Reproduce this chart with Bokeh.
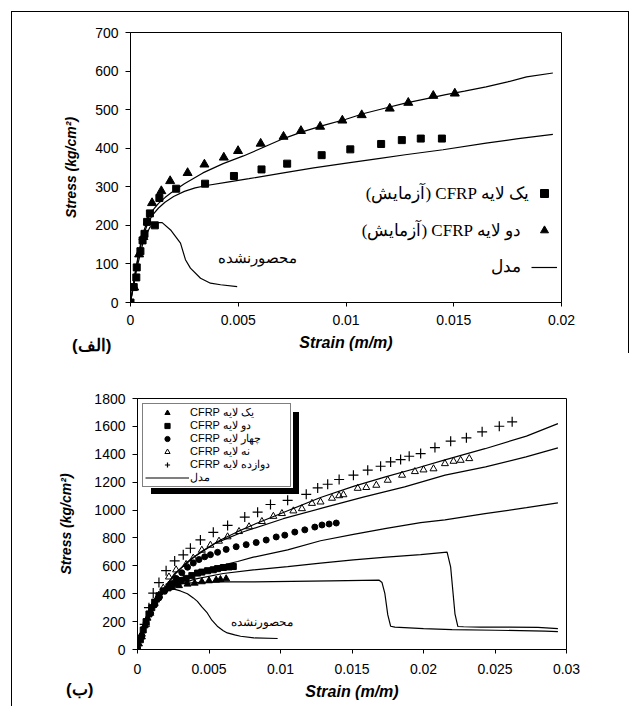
from bokeh.plotting import figure
from bokeh.layouts import column, row
from bokeh.models import Legend, LegendItem, Label, FixedTicker, Range1d, Div
from bokeh.core.properties import value
from bokeh.embed import file_html
from bokeh.resources import INLINE

# ================= Chart (a) =================
A_SQ_STRAIN = [0, 0.00015, 0.00027, 0.00029, 0.00046, 0.00056, 0.00065, 0.00077, 0.0009, 0.00113,
               0.00134, 0.00212, 0.00346, 0.0048, 0.00608, 0.00727, 0.00887, 0.0102, 0.01163,
               0.01259, 0.01347, 0.01445]
A_SQ_STRESS = [0, 40, 65, 91, 133, 161, 178, 209, 231, 200, 271, 295, 308, 328, 345, 360, 382,
               397, 411, 421, 425, 425]

A_TR_STRAIN = [0, 0.00017, 0.0004, 0.0006, 0.0008, 0.001, 0.00143, 0.00184, 0.00265, 0.00343,
               0.00433, 0.00499, 0.00604, 0.0071, 0.00791, 0.0088, 0.00983, 0.01073, 0.01203,
               0.01289, 0.01405, 0.01505]
A_TR_STRESS = [0, 39, 125, 170, 210, 258, 289, 315, 336, 358, 376, 393, 412, 430, 445, 456, 472,
               486, 503, 518, 536, 542]

A_M1_STRAIN = [0, 0.0002, 0.0004, 0.0006, 0.0008, 0.001, 0.0013, 0.0016, 0.002, 0.0025, 0.003,
               0.0036, 0.0045, 0.0055, 0.0071, 0.0085, 0.0101, 0.0115, 0.01275, 0.0145, 0.0165,
               0.018, 0.0196]
A_M1_STRESS = [0, 70, 130, 175, 205, 225, 245, 260, 275, 288, 297, 304, 312, 321, 336, 349, 362,
               373, 383, 396, 413, 425, 436]

A_M2_STRAIN = [0, 0.0002, 0.0004, 0.0006, 0.0008, 0.001, 0.0013, 0.0016, 0.00187, 0.0025,
               0.00336, 0.0043, 0.00524, 0.0062, 0.0071, 0.008, 0.009, 0.01, 0.01083, 0.01175,
               0.01275, 0.0137, 0.01463, 0.0155, 0.0165, 0.0175, 0.01838, 0.0196]
A_M2_STRESS = [0, 72, 135, 182, 215, 237, 257, 272, 284, 308, 336, 360, 380, 403, 425, 443, 460,
               475, 490, 503, 517, 528, 539, 548, 559, 572, 585, 595]

A_UNC_STRAIN = [0, 0.0003, 0.0006, 0.0009, 0.00124, 0.00147, 0.00186, 0.00232, 0.00255, 0.00278,
                0.00325, 0.00371, 0.00418, 0.00495]
A_UNC_STRESS = [0, 90, 160, 195, 207, 207, 188, 154, 111, 89, 63, 50, 46, 41]

A_X_TICKS = [0, 0.005, 0.01, 0.015, 0.02]
A_X_LABELS = ["0", "0.005", "0.01", "0.015", "0.02"]
A_Y_TICKS = [0, 100, 200, 300, 400, 500, 600, 700]
A_LEGEND = ["(آزمایش) CFRP یک لایه", "(آزمایش) CFRP دو لایه", "مدل"]
A_NOTE = "محصورنشده"
A_TAG = "(الف)"

# ================= Chart (b) =================
B1_STRAIN = [0, 0.0001, 0.0003, 0.0005, 0.0007, 0.0009, 0.0011, 0.0013, 0.0015, 0.0018, 0.0021,
             0.0024, 0.0029, 0.0035, 0.004, 0.0045, 0.005, 0.0055, 0.0058, 0.0062]
B1_STRESS = [0, 40, 110, 170, 225, 275, 320, 355, 385, 415, 435, 448, 458, 469, 476, 486, 493,
             498, 502, 507]

B2_STRAIN = [0, 0.0002, 0.0004, 0.0006, 0.0008, 0.001, 0.0012, 0.0015, 0.0018, 0.0022, 0.0026,
             0.003, 0.0034, 0.0038, 0.0042, 0.0045, 0.0049, 0.0053, 0.0056, 0.006, 0.0064, 0.0067]
B2_STRESS = [0, 70, 140, 200, 255, 300, 340, 385, 420, 450, 475, 495, 510, 530, 548, 555, 565,
             572, 580, 588, 592, 595]

B4_STRAIN = [0, 0.0003, 0.0006, 0.0009, 0.0012, 0.0015, 0.0019, 0.0023, 0.0027, 0.0031, 0.0035,
             0.0039, 0.0043, 0.0047, 0.0051, 0.0056, 0.0062, 0.0069, 0.0076, 0.0083, 0.009,
             0.0097, 0.0103, 0.011, 0.0117, 0.0124, 0.0129, 0.0134, 0.0139]
B4_STRESS = [0, 100, 190, 260, 320, 370, 420, 470, 510, 550, 590, 620, 645, 665, 680, 697, 718,
             737, 752, 767, 785, 807, 820, 842, 858, 878, 893, 900, 907]

B9_STRAIN = [0, 0.0003, 0.0006, 0.0009, 0.0012, 0.0015, 0.0018, 0.0022, 0.0027, 0.0034, 0.0039,
             0.0045, 0.0051, 0.0057, 0.0063, 0.0071, 0.0078, 0.0087, 0.0095, 0.0101, 0.0109,
             0.0115, 0.0122, 0.0128, 0.0136, 0.0141, 0.0144, 0.0154, 0.016, 0.0167, 0.0175,
             0.0185, 0.0194, 0.02, 0.0207, 0.0215, 0.0221, 0.0226, 0.0232]
B9_STRESS = [0, 90, 180, 260, 330, 390, 440, 520, 571, 610, 655, 712, 748, 777, 808, 846, 880,
             918, 955, 975, 994, 1010, 1048, 1058, 1085, 1103, 1110, 1156, 1162, 1178, 1214,
             1250, 1276, 1288, 1296, 1333, 1350, 1357, 1369]

B12_STRAIN = [0, 0.0002, 0.0005, 0.0008, 0.0011, 0.0015, 0.002, 0.0026, 0.0032, 0.0037, 0.0044,
              0.0053, 0.0063, 0.0075, 0.0084, 0.0093, 0.0105, 0.0118, 0.0126, 0.0133, 0.0141,
              0.0151, 0.0161, 0.017, 0.0177, 0.0184, 0.019, 0.0198, 0.0208, 0.0219, 0.023,
              0.0241, 0.0253, 0.0262]
B12_STRESS = [0, 80, 180, 300, 405, 480, 565, 635, 679, 726, 786, 840, 890, 950, 985, 1040, 1070,
              1113, 1159, 1185, 1219, 1250, 1286, 1314, 1345, 1362, 1386, 1405, 1448, 1494, 1518,
              1561, 1601, 1633]

BM12_STRAIN = [0, 0.0003, 0.0006, 0.001, 0.0014, 0.0018, 0.0023, 0.0028, 0.0035, 0.0045, 0.0058,
               0.007, 0.0081, 0.0093, 0.0105, 0.0128, 0.0151, 0.0174, 0.0195, 0.0215, 0.0243,
               0.0272, 0.0294]
BM12_STRESS = [0, 110, 200, 290, 360, 425, 500, 560, 630, 705, 785, 845, 895, 945, 995, 1090,
               1170, 1240, 1300, 1360, 1440, 1530, 1620]

BM9_STRAIN = [0, 0.0003, 0.0006, 0.001, 0.0014, 0.0018, 0.00255, 0.00396, 0.00538, 0.00736,
              0.01019, 0.01302, 0.01585, 0.01868, 0.02151, 0.02434, 0.02717, 0.0294]
BM9_STRESS = [0, 110, 200, 290, 360, 420, 540, 663, 759, 843, 938, 1017, 1094, 1166, 1250, 1310,
              1381, 1446]

BM4_STRAIN = [0, 0.0003, 0.0006, 0.001, 0.0014, 0.0018, 0.0022, 0.003, 0.0046, 0.007, 0.0081,
              0.0105, 0.0128, 0.0151, 0.0174, 0.0198, 0.0215, 0.0243, 0.0272, 0.0294]
BM4_STRESS = [0, 110, 200, 290, 360, 405, 435, 490, 571, 631, 662, 714, 780, 825, 869, 910, 930,
              974, 1017, 1051]

BM2_STRAIN = [0, 0.0003, 0.0006, 0.001, 0.0014, 0.0018, 0.0022, 0.0025, 0.004, 0.006, 0.0081,
              0.0105, 0.0128, 0.0151, 0.0174, 0.0198, 0.02165, 0.0219, 0.0222, 0.0224, 0.0228,
              0.024, 0.026, 0.028, 0.0294]
BM2_STRESS = [0, 110, 200, 290, 360, 405, 430, 450, 505, 545, 571, 595, 619, 643, 662, 680, 699,
              590, 256, 165, 163, 160, 160, 158, 150]

BM1_STRAIN = [0, 0.0003, 0.0006, 0.001, 0.0014, 0.0018, 0.0022, 0.0025, 0.003, 0.004, 0.006,
              0.008, 0.0135, 0.0169, 0.0171, 0.0173, 0.0175, 0.0177, 0.018, 0.02, 0.022, 0.025,
              0.0285, 0.0294]
BM1_STRESS = [0, 110, 200, 290, 360, 405, 430, 455, 470, 480, 485, 485, 492, 497, 480, 400, 250,
              167, 160, 150, 142, 138, 132, 128]

BMU_STRAIN = [0, 0.0003, 0.0006, 0.001, 0.0014, 0.0018, 0.0022, 0.00256, 0.003, 0.00349, 0.0039,
              0.00419, 0.0045, 0.00488, 0.0052, 0.00558, 0.006, 0.00628, 0.0068, 0.00721,
              0.00814, 0.0098]
BMU_STRESS = [0, 110, 200, 290, 360, 405, 425, 433, 420, 400, 370, 345, 305, 262, 210, 167, 135,
              119, 105, 95, 83, 79]

B_X_TICKS = [0, 0.005, 0.01, 0.015, 0.02, 0.025, 0.03]
B_X_LABELS = ["0", "0.005", "0.01", "0.015", "0.02", "0.025", "0.03"]
B_Y_TICKS = [0, 200, 400, 600, 800, 1000, 1200, 1400, 1600, 1800]
B_LEGEND = ["CFRP یک لایه", "CFRP دو لایه", "CFRP چهار لایه", "CFRP نه لایه",
            "CFRP دوازده لایه", "مدل"]
B_NOTE = "محصورنشده"
B_TAG = "(ب)"

X_TITLE = "Strain (m/m)"
Y_TITLE = "Stress (kg/cm²)"

SANS = "Liberation Sans"
SERIF = "Liberation Serif"
W = 633
H = 353


def style(p, xticks, xlabels, yticks, tick_standoff_x, title_standoff_x, title_standoff_y):
    p.xgrid.visible = False
    p.ygrid.visible = False
    p.outline_line_color = "black"
    p.outline_line_width = 1
    p.outline_line_alpha = 1
    p.background_fill_color = None
    p.border_fill_color = None
    for ax in (p.xaxis[0], p.yaxis[0]):
        ax.axis_line_color = "black"
        ax.major_tick_line_color = "black"
        ax.minor_tick_line_color = None
        ax.major_tick_in = 0
        ax.major_label_text_font = SANS
        ax.major_label_text_font_size = "14px"
        ax.major_label_text_color = "black"
        ax.axis_label_text_font = SANS
        ax.axis_label_text_font_style = "bold italic"
        ax.axis_label_text_color = "black"
    p.xaxis[0].ticker = FixedTicker(ticks=xticks)
    p.xaxis[0].major_label_overrides = dict(zip(xticks, xlabels))
    p.yaxis[0].ticker = FixedTicker(ticks=yticks)
    p.xaxis[0].major_tick_out = 4
    p.yaxis[0].major_tick_out = 5
    p.xaxis[0].major_label_standoff = tick_standoff_x
    p.yaxis[0].major_label_standoff = 7
    p.xaxis[0].axis_label = X_TITLE
    p.yaxis[0].axis_label = Y_TITLE
    p.xaxis[0].axis_label_text_font_size = "16px"
    p.yaxis[0].axis_label_text_font_size = "14px"
    p.xaxis[0].axis_label_standoff = title_standoff_x
    p.yaxis[0].axis_label_standoff = title_standoff_y


def page_frame(sizes, positions):
    # page frame lines painted behind the transparent canvas border area
    n = len(sizes)
    return {
        "background-color": "white",
        "background-image": ", ".join(["linear-gradient(#000, #000)"] * n),
        "background-size": ", ".join(sizes),
        "background-position": ", ".join(positions),
        "background-repeat": "no-repeat",
    }


def tag_div(text, left, top):
    return Div(text=text, styles={
        "position": "absolute", "left": f"{left}px", "top": f"{top}px",
        "font-family": SANS, "font-size": "17px", "font-weight": "bold",
        "color": "black", "line-height": "20px", "z-index": "10", "white-space": "nowrap",
    })


# ---------------- top figure ----------------
p1 = figure(width=W, height=H, x_range=Range1d(0, 0.02), y_range=Range1d(0, 700),
            output_backend="svg", toolbar_location=None,
            min_border_left=130, min_border_right=72, min_border_top=32, min_border_bottom=51,
            styles=page_frame(["1px calc(100% - 11px)", "618px 1px", "1px calc(100% - 11px)"],
                              ["11px 11px", "11px 11px", "628px 11px"]))
style(p1, A_X_TICKS, A_X_LABELS, A_Y_TICKS, 8, 6, 13)

a_m1 = p1.line(A_M1_STRAIN, A_M1_STRESS, line_color="black", line_width=1.2)
p1.line(A_M2_STRAIN, A_M2_STRESS, line_color="black", line_width=1.2)
p1.line(A_UNC_STRAIN, A_UNC_STRESS, line_color="black", line_width=1.2)
a_sq = p1.scatter(A_SQ_STRAIN, A_SQ_STRESS, marker="square", size=7,
                  fill_color="black", line_color="black")
a_tr = p1.scatter(A_TR_STRAIN, A_TR_STRESS, marker="triangle", size=9,
                  fill_color="black", line_color="black")

# legend keys (glyphs only); the right-to-left texts sit to their left
leg1 = Legend(items=[LegendItem(label=value(""), renderers=[a_sq]),
                     LegendItem(label=value(""), renderers=[a_tr]),
                     LegendItem(label=value(""), renderers=[a_m1])],
              location=(401, 25), orientation="vertical", padding=0, margin=0,
              spacing=17, glyph_width=26, glyph_height=20, label_height=20,
              label_width=0, label_standoff=0,
              background_fill_alpha=0, border_line_alpha=0)
p1.add_layout(leg1)

for txt, lx, ly in zip(A_LEGEND, [0.01851, 0.01814, 0.01814], [283, 187, 93]):
    p1.add_layout(Label(x=lx, y=ly, text=txt, text_font=SERIF, text_font_size="17px",
                        text_align="right", text_baseline="middle", text_color="black"))

p1.add_layout(Label(x=0.00589, y=117, text=A_NOTE, text_font=SANS, text_font_size="15px",
                    text_align="center", text_baseline="middle", text_color="black"))

# ---------------- bottom figure ----------------
p2 = figure(width=W, height=H, x_range=Range1d(0, 0.03), y_range=Range1d(0, 1800),
            output_backend="svg", toolbar_location=None,
            min_border_left=137, min_border_right=67, min_border_top=45, min_border_bottom=57,
            styles=page_frame(["1px 100%"], ["11px 0px"]))
style(p2, B_X_TICKS, B_X_LABELS, B_Y_TICKS, 10, 6, 17)

lw = 1.2
bm = p2.line(BM12_STRAIN, BM12_STRESS, line_color="black", line_width=lw)
p2.line(BM9_STRAIN, BM9_STRESS, line_color="black", line_width=lw)
p2.line(BM4_STRAIN, BM4_STRESS, line_color="black", line_width=lw)
p2.line(BM2_STRAIN, BM2_STRESS, line_color="black", line_width=lw)
p2.line(BM1_STRAIN, BM1_STRESS, line_color="black", line_width=lw)
p2.line(BMU_STRAIN, BMU_STRESS, line_color="black", line_width=lw)

b1 = p2.scatter(B1_STRAIN, B1_STRESS, marker="triangle", size=7, fill_color="black",
                line_color="black")
b2 = p2.scatter(B2_STRAIN, B2_STRESS, marker="square", size=6, fill_color="black",
                line_color="black")
b4 = p2.scatter(B4_STRAIN, B4_STRESS, marker="circle", size=6, fill_color="black",
                line_color="black")
b9 = p2.scatter(B9_STRAIN, B9_STRESS, marker="triangle", size=7, fill_color=None,
                line_color="black", line_width=1)
b12 = p2.scatter(B12_STRAIN, B12_STRESS, marker="cross", size=10, line_color="black",
                 line_width=1.2)

b_renderers = [b1, b2, b4, b9, b12, bm]
leg2 = Legend(items=[LegendItem(label=t, renderers=[r]) for t, r in zip(B_LEGEND, b_renderers)],
              location="top_left", margin=5, orientation="vertical", padding=2, spacing=0,
              glyph_width=44, glyph_height=13, label_height=13, label_width=98,
              label_standoff=1, label_text_font=SANS, label_text_font_size="11px",
              label_text_color="black", border_line_color="black", border_line_width=1,
              background_fill_color="white", background_fill_alpha=1)
p2.add_layout(leg2)

p2.add_layout(Label(x=0.00874, y=194, text=B_NOTE, text_font=SANS, text_font_size="12px",
                    text_align="center", text_baseline="middle", text_color="black"))

# drop shadow along the right and bottom edges of the legend box
shadow = Div(text="", styles={
    "position": "absolute", "left": "146px", "top": "407px", "width": "148px",
    "height": "82px", "box-sizing": "border-box", "border-right": "6px solid black",
    "border-bottom": "6px solid black", "pointer-events": "none", "z-index": "5",
})

tag_a = tag_div(A_TAG, 67, 331)
tag_b = tag_div(B_TAG, 61, 675)

layout = column(row(p1), row(p2), shadow, tag_a, tag_b, spacing=0)
open("out.html", "w").write(file_html(layout, INLINE))
